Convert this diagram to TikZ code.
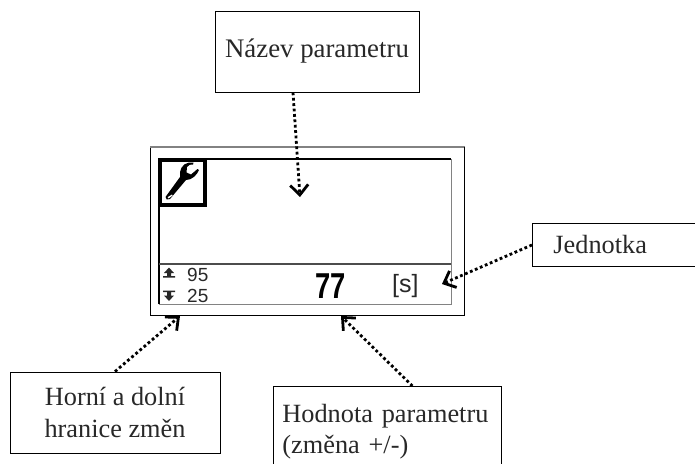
\documentclass[tikz,border=0pt]{standalone}
\usepackage{fontspec}
\setmainfont{Liberation Serif}
\newfontfamily\lcdfont{Liberation Sans}
\usetikzlibrary{arrows.meta}
\definecolor{inkc}{RGB}{40,40,40}
\definecolor{lcdgray}{RGB}{130,130,130}
\tikzset{
  label box/.style={draw=black,line width=0.9pt,fill=white,text=inkc,inner sep=0pt,font=\fontsize{26.3}{31.5}\selectfont},
  pointer/.style={line width=2.8pt,dash pattern=on 2.8pt off 2.6pt,-{Straight Barb[length=10pt,width=18pt,line width=2.8pt]}},
  lcd text/.style={inner sep=0pt,text=inkc,font=\lcdfont\fontsize{19}{19}\selectfont},
  lcd big/.style={inner sep=0pt,text=black,xscale=.76,transform shape,font=\lcdfont\bfseries\fontsize{36}{36}\selectfont},
  lcd line/.style={draw=black,line width=2pt},
  lcd thin/.style={draw=lcdgray,line width=0.9pt}
}
\begin{document}
\begin{tikzpicture}[x=1pt,y=-1pt]
\useasboundingbox (0,0) rectangle (695,463);
% frame
\draw[draw=black,line width=0.9pt] (150,315) -- (150,147) ;
\draw[draw=lcdgray,line width=1.4pt] (150,147) -- (464.5,147);
\draw[draw=black,line width=0.9pt] (464.5,147) -- (464.5,315) -- (150,315);
% LCD
\draw[lcd thin] (451,159) -- (451,304) -- (159,304);
\draw[lcd line] (159,304) -- (159,159) -- (451,159);
\draw[draw=black!70,line width=1.6pt] (159,264) -- (451,264);
\draw[draw=black,line width=3.4pt] (160.5,160.5) rectangle (205,205);
% wrench
\fill[black] (165.5,197) .. controls (165,199.5) and (168,200.5) .. (170,199)
  -- (186,180) .. controls (192,180) and (197,175) .. (199,170)
  -- (197.5,169) -- (191,174.5) -- (186.5,172.5) -- (187,167)
  .. controls (188,165) and (191,164) .. (193,164.5) -- (193.5,162.5)
  .. controls (187,161.5) and (181,165) .. (180,172) -- (180,177) -- cycle;
\fill[white] (167.5,197.2) -- (172,194.5) -- (172.6,195.6) -- (168.6,198.4) -- cycle;
% limit icons
\fill[inkc] (169,267.5) -- (174,273) -- (171,273) -- (171,276) -- (175,276) -- (175,277.5) -- (163,277.5) -- (163,276) -- (167,276) -- (167,273) -- (164,273) -- cycle;
\fill[inkc] (169,301) -- (174,295.5) -- (171,295.5) -- (171,292) -- (175,292) -- (175,290.5) -- (163,290.5) -- (163,292) -- (167,292) -- (167,295.5) -- (164,295.5) -- cycle;
\node[lcd text,anchor=base west] (hi) at (187,281.5) {95};
\node[lcd text,anchor=base west] (lo) at (187,302.5) {25};
\node[lcd big,anchor=base west] (val) at (315,298) {77};
\node[lcd text,anchor=base west,font=\lcdfont\fontsize{25}{25}\selectfont] (unit) at (392,292) {[s]};
% labels
\node[label box,minimum width=204pt,minimum height=81pt,font=\fontsize{26.8}{32}\selectfont] (name) at (317,51.5) {Název parametru};
\node[label box,anchor=north west,minimum height=43pt,text width=190pt,inner xsep=21pt,align=left] (jed) at (532,223) {Jednotka};
\node[label box,minimum width=210pt,minimum height=81pt,align=center] (lim) at (115,412.5) {Horní a dolní\\hranice změn};
\node[label box,anchor=north west,minimum height=90pt,text width=210pt,inner xsep=9pt,align=left] (val2) at (273,386) {Hodnota parametru\\(změna +/-)};
% pointer tips
\coordinate (tipname) at (300,197);
\coordinate (tipjed) at (442,284);
\coordinate (tiplim) at (180,316);
\coordinate (tipval) at (341,316);
\draw[pointer] ([xshift=-24pt]name.south) -- (tipname);
\draw[pointer] (jed.west) -- (tipjed);
\draw[pointer] (lim.north) -- (tiplim);
\draw[pointer] ([xshift=25pt]val2.north) -- (tipval);
\end{tikzpicture}
\end{document}
